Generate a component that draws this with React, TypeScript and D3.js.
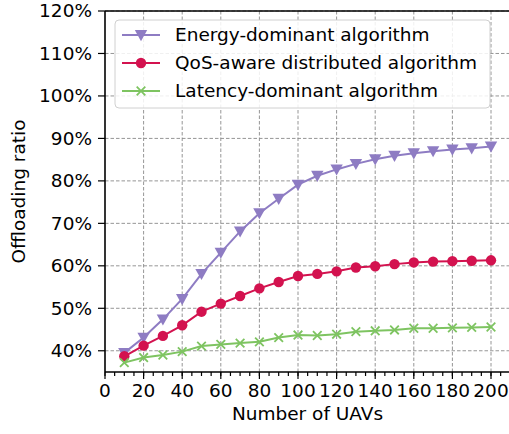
import React from "react";
import * as d3 from "d3";

// number of UAVs
const uavCounts = [10, 20, 30, 40, 50, 60, 70, 80, 90, 100, 110, 120, 130, 140, 150, 160, 170, 180, 190, 200];

// offloading ratio (%)
const energyDominant = [39.5, 43.1, 47.4, 52.2, 58.1, 63.1, 68.1, 72.4, 75.8, 79.1, 81.2, 82.7, 84.0, 85.1, 85.9, 86.5, 87.0, 87.4, 87.7, 88.1];
const qosAware = [38.7, 41.2, 43.5, 46.0, 49.2, 51.1, 52.9, 54.7, 56.2, 57.6, 58.1, 58.7, 59.6, 59.9, 60.4, 60.8, 61.0, 61.1, 61.2, 61.3];
const latencyDominant = [37.2, 38.4, 39.0, 39.8, 41.1, 41.5, 41.8, 42.1, 43.1, 43.7, 43.6, 43.9, 44.5, 44.7, 44.9, 45.3, 45.3, 45.4, 45.5, 45.6];

const xTicks = [0, 20, 40, 60, 80, 100, 120, 140, 160, 180, 200];
const yTicks = [40, 50, 60, 70, 80, 90, 100, 110, 120];

const series = [
  { name: "Energy-dominant algorithm", values: energyDominant, color: "#8e7cc3", marker: "triangle" },
  { name: "QoS-aware distributed algorithm", values: qosAware, color: "#d3124f", marker: "circle" },
  { name: "Latency-dominant algorithm", values: latencyDominant, color: "#7ec461", marker: "cross" },
];

const W = 509;
const H = 434;
const left = 105;
const top = 11;
const bottom = 372;
const fs = 18.5;
const font = "DejaVu Sans, sans-serif";

const x = d3.scaleLinear().domain([0, 210]).range([left, 510.3]);
const y = d3.scaleLinear().domain([35, 120]).range([bottom, top]);
const minorTicks = d3.range(0, 211, 5);

function Marker({ kind, cx, cy, color }: { kind: string; cx: number; cy: number; color: string }) {
  if (kind === "circle") return <circle cx={cx} cy={cy} r={5.2} fill={color} />;
  if (kind === "triangle") {
    const s = 6.2;
    return <path d={`M${cx - s},${cy - s * 0.8}L${cx + s},${cy - s * 0.8}L${cx},${cy + s}Z`} fill={color} />;
  }
  const s = 4.3;
  return (
    <path d={`M${cx - s},${cy - s}L${cx + s},${cy + s}M${cx - s},${cy + s}L${cx + s},${cy - s}`} stroke={color} strokeWidth={1.8} fill="none" />
  );
}

export default function App() {
  const line = d3
    .line<number>()
    .x((_, i) => x(uavCounts[i]))
    .y((d) => y(d));

  return (
    <svg width={W} height={H} style={{ position: "absolute", left: 0, top: 0, background: "#fff" }} fontFamily={font}>
      <defs>
        <clipPath id="plot">
          <rect x={left} y={top} width={W - left} height={bottom - top} />
        </clipPath>
      </defs>

      {/* grid */}
      <g stroke="#8a8a8a" strokeWidth={0.9} strokeDasharray="3.5,2">
        {xTicks.filter((t) => t > 0).map((t) => (
          <line key={"gx" + t} x1={x(t)} x2={x(t)} y1={top} y2={bottom} />
        ))}
        {yTicks.map((t) => (
          <line key={"gy" + t} x1={left} x2={W} y1={y(t)} y2={y(t)} />
        ))}
      </g>

      {/* series */}
      <g clipPath="url(#plot)">
        {series.map((s) => (
          <g key={s.name}>
            <path d={line(s.values) || ""} fill="none" stroke={s.color} strokeWidth={2} />
            {s.values.map((v, i) => (
              <Marker key={i} kind={s.marker} cx={x(uavCounts[i])} cy={y(v)} color={s.color} />
            ))}
          </g>
        ))}
      </g>

      {/* spines */}
      <g stroke="#000" strokeWidth={1.6} fill="none">
        <line x1={left} x2={left} y1={top} y2={bottom} />
        <line x1={left} x2={W} y1={top} y2={top} />
        <line x1={left} x2={W} y1={bottom} y2={bottom} />
      </g>

      {/* ticks */}
      <g stroke="#000" strokeWidth={1.2}>
        {minorTicks.map((t) => (
          <line key={"mx" + t} x1={x(t)} x2={x(t)} y1={bottom} y2={bottom + 4} />
        ))}
        {xTicks.map((t) => (
          <line key={"tx" + t} x1={x(t)} x2={x(t)} y1={bottom} y2={bottom + 7} />
        ))}
        {yTicks.map((t) => (
          <line key={"ty" + t} x1={left - 7} x2={left} y1={y(t)} y2={y(t)} />
        ))}
      </g>
      <g fontSize={fs} fill="#000">
        {xTicks.map((t) => (
          <text key={"lx" + t} x={x(t)} y={bottom + 25} textAnchor="middle">
            {t}
          </text>
        ))}
        {yTicks.map((t) => (
          <text key={"ly" + t} x={left - 13} y={y(t)} dy="0.35em" textAnchor="end">
            {t}%
          </text>
        ))}
      </g>

      {/* axis titles */}
      <text x={(left + 510) / 2} y={420} textAnchor="middle" fontSize={fs}>
        Number of UAVs
      </text>
      <text transform={`translate(25,${(top + bottom) / 2}) rotate(-90)`} textAnchor="middle" fontSize={fs}>
        Offloading ratio
      </text>

      {/* legend */}
      <g>
        <rect x={115} y={20} width={375} height={88} rx={4} fill="#fff" fillOpacity={0.85} stroke="#d0d0d0" strokeWidth={1} />
        {series.map((s, i) => {
          const ly = 35 + i * 28;
          return (
            <g key={s.name}>
              <line x1={122} x2={160} y1={ly} y2={ly} stroke={s.color} strokeWidth={2} />
              <Marker kind={s.marker} cx={141} cy={ly} color={s.color} />
              <text x={175} y={ly} dy="0.35em" fontSize={fs}>
                {s.name}
              </text>
            </g>
          );
        })}
      </g>
    </svg>
  );
}
